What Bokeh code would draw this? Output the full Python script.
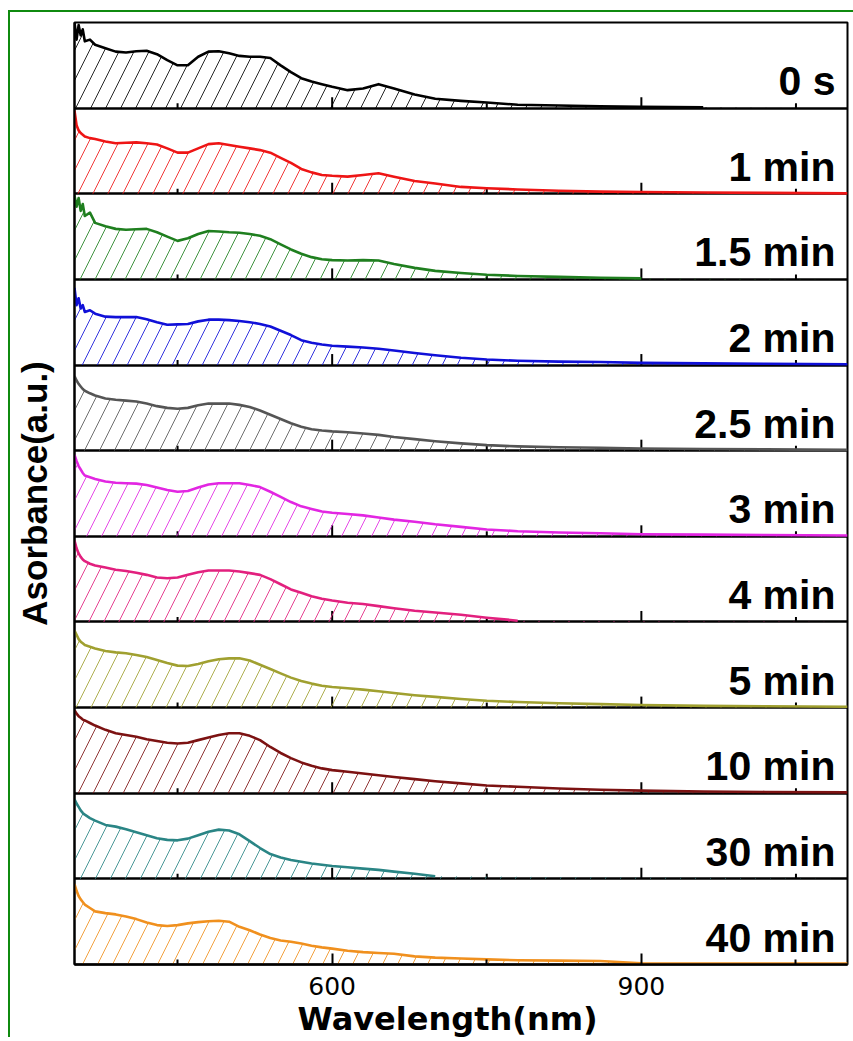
import numpy as np
from bokeh.plotting import figure
from bokeh.models import FixedTicker, Range1d, Title
from bokeh.core.properties import value
from bokeh.embed import file_html
from bokeh.resources import INLINE

# Wavelength grid (nm) shared by all spectra
WAVELENGTH = [350, 352, 354, 356, 358, 360, 365, 370, 380, 390, 400, 410, 420, 430, 440,
              450, 460, 470, 480, 490, 500, 510, 520, 530, 540, 550, 560, 570, 580, 590,
              600, 615, 630, 645, 660, 680, 700, 725, 750, 780, 820, 860, 900, 960, 1020, 1100]

# Normalised absorbance of each spectrum (None = not recorded)
A_0S = [1.00, 0.80, 0.97, 0.85, 0.92, 0.78, 0.80, 0.74, 0.70, 0.66, 0.65, 0.665, 0.67, 0.63, 0.56,
        0.50, 0.50, 0.60, 0.66, 0.665, 0.64, 0.61, 0.60, 0.60, 0.585, 0.50, 0.42, 0.35, 0.31, 0.28,
        0.25, 0.21, 0.23, 0.28, 0.23, 0.16, 0.11, 0.085, 0.065, 0.04, 0.03, 0.02, 0.015, 0.01, None, None]
A_1MIN = [0.97, 0.80, 0.74, 0.71, 0.69, 0.67, 0.65, 0.64, 0.61, 0.59, 0.595, 0.60, 0.59, 0.575, 0.53,
          0.48, 0.48, 0.53, 0.58, 0.59, 0.57, 0.55, 0.53, 0.51, 0.48, 0.42, 0.36, 0.29, 0.25, 0.22,
          0.21, 0.20, 0.22, 0.24, 0.20, 0.15, 0.12, 0.08, 0.065, 0.05, 0.035, 0.025, 0.02, 0.015, 0.01, 0.005]
A_1P5MIN = [0.98, 0.85, 0.95, 0.80, 0.88, 0.74, 0.78, 0.66, 0.62, 0.59, 0.58, 0.585, 0.59, 0.55, 0.50,
            0.45, 0.48, 0.53, 0.565, 0.56, 0.55, 0.545, 0.53, 0.51, 0.47, 0.41, 0.35, 0.30, 0.26, 0.235,
            0.225, 0.22, 0.225, 0.22, 0.18, 0.135, 0.10, 0.075, 0.055, 0.04, 0.03, 0.02, 0.012, None, None, None]
A_2MIN = [0.90, 0.70, 0.78, 0.66, 0.70, 0.62, 0.64, 0.60, 0.565, 0.56, 0.56, 0.56, 0.535, 0.50, 0.47,
          0.475, 0.48, 0.51, 0.53, 0.53, 0.525, 0.515, 0.50, 0.48, 0.45, 0.40, 0.35, 0.29, 0.26, 0.24,
          0.225, 0.215, 0.205, 0.19, 0.17, 0.14, 0.115, 0.085, 0.065, 0.05, 0.04, 0.035, 0.025, 0.02, 0.015, 0.01]
A_2P5MIN = [0.87, 0.82, 0.78, 0.75, 0.72, 0.70, 0.67, 0.645, 0.61, 0.595, 0.585, 0.575, 0.55, 0.52, 0.50,
            0.49, 0.50, 0.53, 0.55, 0.55, 0.55, 0.535, 0.51, 0.47, 0.42, 0.37, 0.32, 0.28, 0.25, 0.235,
            0.225, 0.215, 0.20, 0.185, 0.16, 0.135, 0.11, 0.085, 0.065, 0.05, 0.04, 0.035, 0.025, 0.02, 0.015, 0.01]
A_3MIN = [0.95, 0.88, 0.82, 0.78, 0.74, 0.71, 0.69, 0.67, 0.64, 0.625, 0.62, 0.615, 0.60, 0.57, 0.54,
          0.52, 0.53, 0.57, 0.605, 0.62, 0.62, 0.62, 0.60, 0.575, 0.52, 0.46, 0.40, 0.35, 0.32, 0.29,
          0.275, 0.26, 0.245, 0.22, 0.195, 0.17, 0.14, 0.11, 0.08, 0.06, 0.045, 0.035, 0.025, 0.02, 0.015, 0.01]
A_4MIN = [0.95, 0.86, 0.80, 0.76, 0.73, 0.71, 0.68, 0.66, 0.635, 0.61, 0.595, 0.575, 0.55, 0.52, 0.51,
          0.52, 0.55, 0.58, 0.60, 0.60, 0.60, 0.59, 0.57, 0.55, 0.50, 0.44, 0.38, 0.34, 0.30, 0.27,
          0.25, 0.225, 0.21, 0.185, 0.16, 0.13, 0.11, 0.085, 0.05, 0.015, None, None, None, None, None, None]
A_5MIN = [0.90, 0.85, 0.80, 0.77, 0.75, 0.73, 0.71, 0.69, 0.66, 0.645, 0.635, 0.615, 0.59, 0.555, 0.52,
          0.49, 0.485, 0.51, 0.54, 0.565, 0.575, 0.575, 0.55, 0.50, 0.45, 0.40, 0.35, 0.31, 0.28, 0.255,
          0.24, 0.225, 0.21, 0.19, 0.17, 0.145, 0.125, 0.10, 0.08, 0.065, 0.05, 0.04, 0.03, 0.02, 0.015, 0.01]
A_10MIN = [0.97, 0.93, 0.90, 0.88, 0.86, 0.85, 0.82, 0.79, 0.74, 0.70, 0.68, 0.66, 0.63, 0.61, 0.59,
           0.58, 0.59, 0.62, 0.65, 0.68, 0.70, 0.70, 0.67, 0.62, 0.54, 0.47, 0.41, 0.36, 0.32, 0.29,
           0.27, 0.25, 0.23, 0.21, 0.19, 0.165, 0.14, 0.115, 0.09, 0.075, 0.055, 0.04, 0.03, 0.02, 0.015, 0.01]
A_30MIN = [0.93, 0.88, 0.84, 0.80, 0.77, 0.75, 0.71, 0.68, 0.63, 0.61, 0.58, 0.545, 0.51, 0.475, 0.455,
           0.45, 0.47, 0.51, 0.55, 0.575, 0.565, 0.52, 0.44, 0.36, 0.29, 0.25, 0.22, 0.20, 0.18, 0.165,
           0.15, 0.135, 0.12, 0.105, 0.085, 0.06, 0.03, None, None, None, None, None, None, None, None, None]
A_40MIN = [0.94, 0.86, 0.80, 0.76, 0.73, 0.70, 0.66, 0.62, 0.60, 0.585, 0.56, 0.53, 0.49, 0.46, 0.45,
           0.46, 0.48, 0.495, 0.505, 0.51, 0.50, 0.44, 0.40, 0.35, 0.31, 0.28, 0.265, 0.245, 0.22, 0.20,
           0.185, 0.16, 0.145, 0.135, 0.125, 0.095, 0.08, 0.07, 0.06, 0.05, 0.045, 0.04, 0.015, 0.012, 0.01, 0.01]

SPECTRA = [A_0S, A_1MIN, A_1P5MIN, A_2MIN, A_2P5MIN, A_3MIN, A_4MIN, A_5MIN, A_10MIN, A_30MIN, A_40MIN]
LABELS = ["0 s", "1 min", "1.5 min", "2 min", "2.5 min", "3 min", "4 min", "5 min", "10 min", "30 min", "40 min"]
COLORS = ["#000000", "#ee1515", "#1f7f1f", "#1010d8", "#555555", "#e226e2",
          "#e2207e", "#a0a030", "#7c1212", "#2a8585", "#f0901e"]

MAJOR_TICKS = [300, 600, 900, 1200]
MINOR_TICKS = [450, 750, 1050]
X_START, X_END = 350, 1100

n = len(LABELS)
FRAME_W, FRAME_H = 773, 942
panel_px = FRAME_H / n

p = figure(frame_width=FRAME_W, frame_height=FRAME_H,
           x_range=Range1d(X_START, X_END), y_range=Range1d(0, n),
           output_backend="svg", toolbar_location=None,
           min_border_left=64, min_border_right=6, min_border_top=10, min_border_bottom=0)
p.styles = {"border-left": "2px solid #0f8a0f", "border-top": "2px solid #0f8a0f",
            "margin-left": "8px", "margin-top": "10px"}

p.xgrid.visible = False
p.ygrid.visible = False
p.outline_line_color = "black"
p.outline_line_width = 2
p.background_fill_color = "white"
p.border_fill_color = "white"

# panel separators (each one is the baseline of the panel above it)
p.hspan(y=list(range(1, n)), line_color="black", line_width=2.5)

# inward ticks on every inner baseline
wl = np.array(WAVELENGTH, dtype=float)
inner = [k for k in range(1, n) for _ in MAJOR_TICKS]
maj_x = [t for _ in range(1, n) for t in MAJOR_TICKS]
p.segment(x0=maj_x, y0=inner, x1=maj_x, y1=[b + 11 / panel_px for b in inner],
          line_color="black", line_width=2)
inner_m = [k for k in range(1, n) for _ in MINOR_TICKS]
min_x = [t for _ in range(1, n) for t in MINOR_TICKS]
p.segment(x0=min_x, y0=inner_m, x1=min_x, y1=[b + 5 / panel_px for b in inner_m],
          line_color="black", line_width=2)

offsets = []
for i, (spec, color) in enumerate(zip(SPECTRA, COLORS)):
    base = n - 1 - i
    offsets.append(base)
    a = np.array(spec, dtype=float)
    p.varea(x=wl, y1=base, y2=base + a, fill_alpha=0, fill_color=None,
            hatch_pattern="/", hatch_color=color, hatch_scale=30,
            hatch_weight=1, hatch_alpha=0.85)
    p.line(wl, base + a, line_color=color, line_width=2.6, line_join="round")

# time labels: vertically centred about 27 px above each panel's baseline
label_y = [b + 27 / panel_px for b in offsets]
p.text(x=[X_END] * n, y=label_y, text=LABELS, text_align="right", text_baseline="middle",
       x_offset=-12, text_color="black",
       text_font=value("Liberation Sans"), text_font_style="bold", text_font_size="41px")

xa = p.xaxis[0]
xa.ticker = FixedTicker(ticks=MAJOR_TICKS, minor_ticks=MINOR_TICKS)
xa.major_tick_in = 11
xa.major_tick_out = 0
xa.minor_tick_in = 5
xa.minor_tick_out = 0
xa.major_tick_line_width = 2
xa.minor_tick_line_width = 2
xa.axis_line_width = 2.5
xa.major_label_standoff = 12
xa.major_label_text_font = "DejaVu Sans"
xa.major_label_text_font_size = "25px"
xa.major_label_text_color = "black"

# x-axis title, set a bit left of the frame centre
p.add_layout(Title(text="Wavelength(nm)", align="left", offset=223, standoff=0,
                   text_font="DejaVu Sans", text_font_style="bold",
                   text_font_size="32px", text_color="black"), "below")

ya = p.yaxis[0]
ya.ticker = FixedTicker(ticks=[])
ya.major_tick_in = 0
ya.major_tick_out = 0
ya.minor_tick_in = 0
ya.minor_tick_out = 0
ya.major_label_text_font_size = "0px"
ya.axis_line_width = 2
ya.axis_label = "Asorbance(a.u.)"
ya.axis_label_text_font = "Liberation Sans"
ya.axis_label_text_font_style = "bold"
ya.axis_label_text_font_size = "35px"
ya.axis_label_text_color = "black"
ya.axis_label_standoff = 21

open("out.html", "w").write(file_html(p, INLINE))
